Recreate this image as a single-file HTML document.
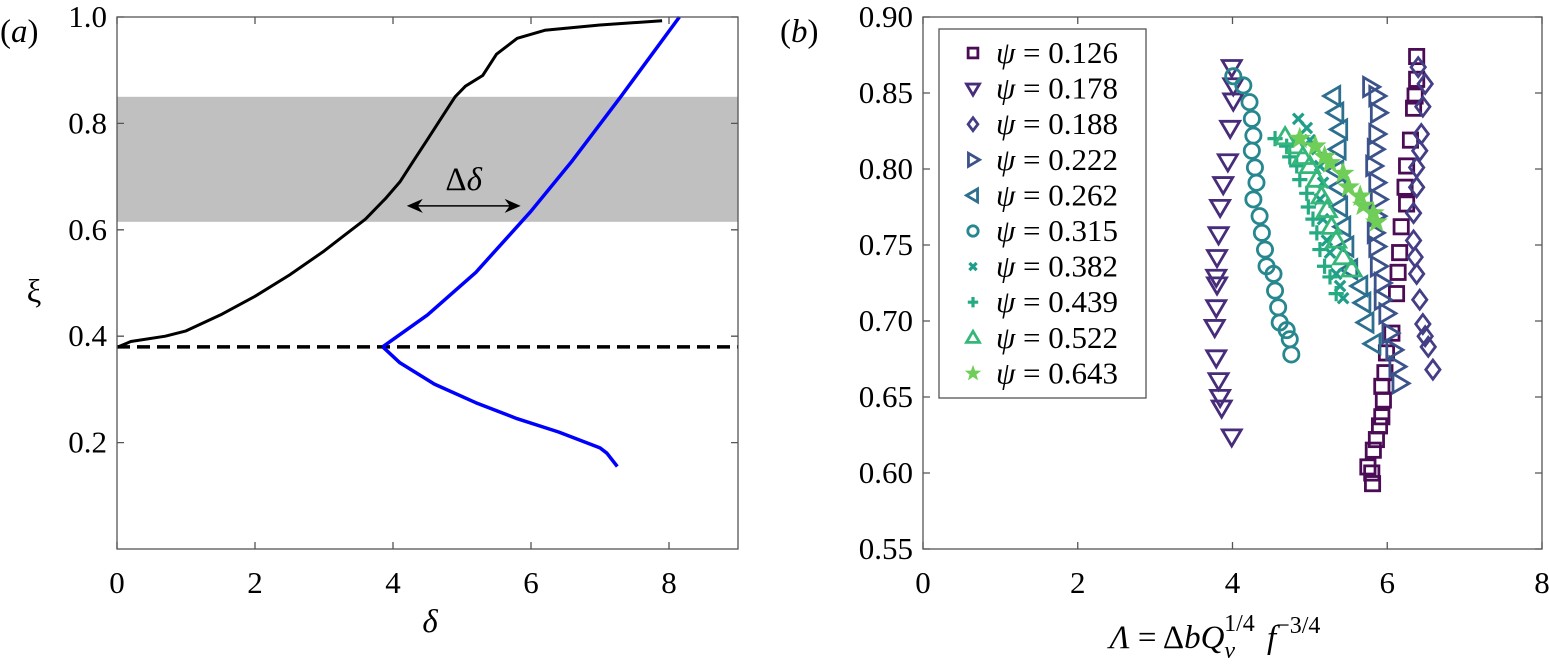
<!DOCTYPE html>
<html><head><meta charset="utf-8"><style>
html,body{margin:0;padding:0;background:#fff;}
svg{display:block;}
svg text{font-family:"Liberation Serif","DejaVu Serif","Times New Roman",serif;}
</style></head><body>
<svg id="chart" width="1549" height="671" viewBox="0 0 1549 671">
<g id="pa"></g>
<g id="pb"></g>
</svg>
<script>
// ---------- Panel (a) data ----------
const aXTicks = [0, 2, 4, 6, 8];
const aYTicks = [0.2, 0.4, 0.6, 0.8, 1.0];
const aYTickLabels = ["0.2", "0.4", "0.6", "0.8", "1.0"];
const blackX = [0.02,0.2,0.7,1.0,1.5,2.0,2.5,3.0,3.3,3.6,3.9,4.1,4.3,4.5,4.7,4.9,5.05,5.3,5.5,5.8,6.2,7.0,7.9];
const blackY = [0.38,0.39,0.40,0.41,0.44,0.475,0.515,0.56,0.59,0.62,0.66,0.69,0.73,0.77,0.81,0.85,0.87,0.89,0.93,0.96,0.975,0.985,0.993];
const blueUpX = [3.85,4.5,5.2,6.0,6.6,7.3,8.15];
const blueUpY = [0.38,0.44,0.52,0.635,0.73,0.85,1.0];
const blueLoX = [3.85,4.1,4.6,5.2,5.8,6.4,7.0,7.1,7.25];
const blueLoY = [0.38,0.35,0.31,0.275,0.245,0.22,0.19,0.18,0.155];
const dashedLevel = [0.38];
const bandRange = [0.615, 0.85];
const arrowRange = [4.2, 5.85];
const arrowLevel = [0.645];

// ---------- Panel (b) data ----------
const bXTicks = [0, 2, 4, 6, 8];
const bYTicks = [0.55,0.60,0.65,0.70,0.75,0.80,0.85,0.90];
const bYTickLabels = ["0.55","0.60","0.65","0.70","0.75","0.80","0.85","0.90"];
const psiLabels = ["0.126","0.178","0.188","0.222","0.262","0.315","0.382","0.439","0.522","0.643"];
const s126x = [6.38,6.38,6.36,6.34,6.30,6.25,6.23,6.25,6.18,6.16,6.14,6.12,6.06,5.99,5.97,5.93,5.95,5.93,5.90,5.86,5.82,5.75,5.80,5.81];
const s126y = [.874,.859,.848,.840,.819,.802,.788,.777,.762,.745,.732,.718,.692,.679,.666,.657,.648,.637,.631,.622,.615,.604,.600,.593];
const s178x = [3.99,4.01,4.01,3.97,3.94,3.88,3.84,3.82,3.80,3.79,3.80,3.79,3.77,3.79,3.82,3.84,3.86,3.99];
const s178y = [.867,.855,.845,.827,.805,.790,.775,.757,.742,.729,.724,.709,.696,.676,.661,.650,.643,.624];
const s188x = [6.40,6.49,6.46,6.44,6.42,6.38,6.38,6.34,6.34,6.36,6.38,6.42,6.46,6.49,6.53,6.59];
const s188y = [.867,.856,.841,.823,.812,.801,.788,.771,.753,.742,.731,.714,.698,.690,.683,.668];
const s222x = [5.78,5.86,5.88,5.86,5.84,5.82,5.86,5.88,5.86,5.84,5.86,5.88,5.93,5.93,5.99,6.03,6.08,6.12,6.16];
const s222y = [.854,.848,.837,.823,.813,.802,.791,.780,.769,.758,.749,.736,.725,.714,.705,.692,.681,.670,.659];
const s262x = [5.30,5.34,5.39,5.37,5.34,5.37,5.39,5.43,5.47,5.52,5.65,5.69,5.73,5.82];
const s262y = [.848,.837,.826,.813,.799,.788,.775,.762,.749,.734,.723,.712,.699,.685];
const s315x = [4.01,4.14,4.22,4.25,4.27,4.25,4.29,4.31,4.27,4.35,4.38,4.42,4.44,4.53,4.55,4.59,4.61,4.70,4.74,4.76];
const s315y = [.861,.855,.844,.833,.822,.812,.801,.791,.780,.769,.758,.747,.736,.731,.720,.709,.699,.694,.688,.678];
const s382x = [4.85,4.96,5.00,5.09,5.13,5.17,5.13,5.17,5.22,5.26,5.34,5.39,5.43];
const s382y = [.833,.827,.819,.813,.802,.791,.780,.767,.753,.745,.731,.723,.715];
const s439x = [4.55,4.70,4.74,4.83,4.87,4.96,4.98,5.04,5.09,5.13,5.19,5.26,5.34];
const s439y = [.820,.815,.808,.802,.793,.784,.775,.767,.758,.747,.736,.729,.718];
const s522x = [4.68,4.83,4.91,5.00,5.09,5.15,5.22,5.28,5.34,5.43,5.54];
const s522y = [.821,.815,.808,.802,.793,.782,.773,.762,.753,.742,.734];
const s643x = [4.87,5.07,5.19,5.26,5.43,5.50,5.65,5.69,5.82,5.86];
const s643y = [.820,.815,.808,.804,.797,.788,.782,.776,.771,.765];

const NS = "http://www.w3.org/2000/svg";
const FONT = '"Liberation Serif","DejaVu Serif",serif';
function mk(tag, attrs, parent){
  const e = document.createElementNS(NS, tag);
  for (const k in attrs) e.setAttribute(k, attrs[k]);
  if (tag === "text") e.setAttribute("font-family", FONT);
  parent.appendChild(e);
  return e;
}

// ---------- Panel (a) ----------
const pa = document.getElementById("pa");
const aL = 117, aR = 738, aT = 17, aB = 549;
const ax = v => aL + (v / 9) * (aR - aL);
const ay = v => aB - v * (aB - aT);

let el = mk("rect", {x: aL, y: ay(bandRange[1]), width: aR - aL, height: ay(bandRange[0]) - ay(bandRange[1]), fill: "#c0c0c0"}, pa);



el = mk("line", {x1: aL, x2: aR, y1: ay(dashedLevel[0]), y2: ay(dashedLevel[0]), stroke: "#000", "stroke-width": 3.5, "stroke-dasharray": "13,7"}, pa);



function poly(xs, ys, fx, fy){ return xs.map((v,i)=>fx(v).toFixed(1)+","+fy(ys[i]).toFixed(1)).join(" "); }
el = mk("polyline", {points: poly(blackX, blackY, ax, ay), fill: "none", stroke: "#000", "stroke-width": 3, "stroke-linejoin": "round"}, pa);


el = mk("polyline", {points: poly(blueUpX, blueUpY, ax, ay), fill: "none", stroke: "#0000ff", "stroke-width": 3.5, "stroke-linejoin": "round"}, pa);


el = mk("polyline", {points: poly(blueLoX, blueLoY, ax, ay), fill: "none", stroke: "#0000ff", "stroke-width": 3.5, "stroke-linejoin": "round"}, pa);



const ayA = ay(arrowLevel[0]), x1A = ax(arrowRange[0]), x2A = ax(arrowRange[1]);
el = mk("line", {x1: x1A + 8, x2: x2A - 8, y1: ayA, y2: ayA, stroke: "#000", "stroke-width": 1.5}, pa);


el = mk("path", {d: `M${x1A},${ayA} l16,-7 l-5,7 l5,7 z M${x2A},${ayA} l-16,-7 l5,7 l-5,7 z`, fill: "#000"}, pa);


el = mk("text", {x: (x1A + x2A) / 2, y: ayA - 16, "font-size": 33, "text-anchor": "middle"}, pa);
el.innerHTML = 'Δ<tspan font-style="italic">δ</tspan>';



el = mk("rect", {x: aL, y: aT, width: aR - aL, height: aB - aT, fill: "none", stroke: "#555", "stroke-width": 1.3}, pa);


aXTicks.forEach(t => {
  const x = ax(t);
  el = mk("path", {d: `M${x},${aB} v-7 M${x},${aT} v7`, stroke: "#555", "stroke-width": 1.3}, pa);
  
  
  el = mk("text", {x: x, y: aB + 44, "font-size": 31, "text-anchor": "middle"}, pa);
  el.textContent = t;
  
  
});
aYTicks.forEach((t, i) => {
  const y = ay(t);
  el = mk("path", {d: `M${aL},${y} h7 M${aR},${y} h-7`, stroke: "#555", "stroke-width": 1.3}, pa);
  
  
  el = mk("text", {x: aL - 10, y: y + 10, "font-size": 31, "text-anchor": "end"}, pa);
  el.textContent = aYTickLabels[i];
  
  
});
el = mk("text", {x: 430, y: 632, "font-size": 33, "font-style": "italic", "text-anchor": "middle"}, pa);
el.textContent = "δ";


el = mk("text", {x: 34, y: 302, "font-size": 33, "text-anchor": "middle"}, pa);
el.textContent = "ξ";


el = mk("text", {x: 0, y: 42, "font-size": 33}, pa);
el.innerHTML = '(<tspan font-style="italic">a</tspan>)';



// ---------- Panel (b) ----------
const pb = document.getElementById("pb");
const bL = 923, bR = 1542, bT = 17, bB = 549;
const bx = v => bL + (v / 8) * (bR - bL);
const by = v => bB - (v - 0.55) / 0.35 * (bB - bT);

el = mk("rect", {x: bL, y: bT, width: bR - bL, height: bB - bT, fill: "none", stroke: "#555", "stroke-width": 1.3}, pb);


bXTicks.forEach(t => {
  const x = bx(t);
  el = mk("path", {d: `M${x},${bB} v-7 M${x},${bT} v7`, stroke: "#555", "stroke-width": 1.3}, pb);
  
  
  el = mk("text", {x: x, y: bB + 44, "font-size": 31, "text-anchor": "middle"}, pb);
  el.textContent = t;
  
  
});
bYTicks.forEach((t, i) => {
  const y = by(t);
  el = mk("path", {d: `M${bL},${y} h7 M${bR},${y} h-7`, stroke: "#555", "stroke-width": 1.3}, pb);
  
  
  el = mk("text", {x: bL - 10, y: y + 10, "font-size": 31, "text-anchor": "end"}, pb);
  el.textContent = bYTickLabels[i];
  
  
});
el = mk("text", {x: 1215, y: 648, "font-size": 33, "text-anchor": "middle"}, pb);
el.innerHTML = '<tspan font-style="italic">Λ</tspan> = Δ<tspan font-style="italic">bQ</tspan><tspan font-style="italic" font-size="24" dy="10">v</tspan><tspan font-size="24" dx="-11" dy="-27">1/4</tspan><tspan font-style="italic" dx="4" dy="17"> f</tspan><tspan font-size="24" dy="-15">−3/4</tspan>';


el = mk("text", {x: 780, y: 42, "font-size": 33}, pb);
el.innerHTML = '(<tspan font-style="italic">b</tspan>)';



const colors = ["#4b0c55","#472c7a","#433e85","#3b528b","#2c6f8e","#26878e","#1f9e89","#25ab82","#35b779","#6ece58"];
const shapes = ["square","tridown","diamond","triright","trileft","circle","x","plus","triup","star"];
const seriesX = [s126x,s178x,s188x,s222x,s262x,s315x,s382x,s439x,s522x,s643x];
const seriesY = [s126y,s178y,s188y,s222y,s262y,s315y,s382y,s439y,s522y,s643y];

function marker(shape, cx, cy, color, parent, r){
  const sw = 2.8;
  let d;
  if (shape === "square") return mk("rect", {x: cx - r*0.75, y: cy - r*0.75, width: r*1.5, height: r*1.5, fill: "none", stroke: color, "stroke-width": sw}, parent);
  if (shape === "circle") return mk("circle", {cx, cy, r: r*0.8, fill: "none", stroke: color, "stroke-width": sw}, parent);
  if (shape === "diamond") d = `M${cx},${cy-r} L${cx+r*0.75},${cy} L${cx},${cy+r} L${cx-r*0.75},${cy} Z`;
  if (shape === "tridown") d = `M${cx-r},${cy-r*0.7} L${cx+r},${cy-r*0.7} L${cx},${cy+r} Z`;
  if (shape === "triup") d = `M${cx-r},${cy+r*0.7} L${cx+r},${cy+r*0.7} L${cx},${cy-r} Z`;
  if (shape === "triright") d = `M${cx-r*0.7},${cy-r} L${cx-r*0.7},${cy+r} L${cx+r},${cy} Z`;
  if (shape === "trileft") d = `M${cx+r*0.7},${cy-r} L${cx+r*0.7},${cy+r} L${cx-r},${cy} Z`;
  if (shape === "x") { const q = r*0.55; return mk("path", {d: `M${cx-q},${cy-q} L${cx+q},${cy+q} M${cx-q},${cy+q} L${cx+q},${cy-q}`, stroke: color, "stroke-width": 3.2}, parent); }
  if (shape === "plus") { const q = r*0.8; return mk("path", {d: `M${cx-q},${cy} H${cx+q} M${cx},${cy-q} V${cy+q}`, stroke: color, "stroke-width": 3.2}, parent); }
  if (shape === "star") {
    let p = [];
    for (let k = 0; k < 10; k++) { const a = -Math.PI/2 + k*Math.PI/5; const rr = k%2 ? r*0.45 : r*1.1; p.push((cx+rr*Math.cos(a)).toFixed(1)+","+(cy+rr*Math.sin(a)).toFixed(1)); }
    return mk("polygon", {points: p.join(" "), fill: color, stroke: color, "stroke-width": 1}, parent);
  }
  return mk("path", {d, fill: "none", stroke: color, "stroke-width": sw, "stroke-linejoin": "miter"}, parent);
}

seriesX.forEach((xs, s) => {
  const g = mk("g", {}, pb);
  
  
  xs.forEach((v, i) => {
    const m = marker(shapes[s], bx(v), by(seriesY[s][i]), colors[s], g, 9.5);
    
    
  });
});

const lg = mk("g", {}, pb);


el = mk("rect", {x: 939, y: 29, width: 207, height: 369, fill: "#fff", stroke: "#555", "stroke-width": 1.3}, lg);


psiLabels.forEach((lab, i) => {
  const cy = 53 + i * 35.6;
  const m = marker(shapes[i], 973, cy, colors[i], lg, 6.5);
  
  
  const t = mk("text", {x: 996, y: cy + 10, "font-size": 31}, lg);
  t.innerHTML = '<tspan font-style="italic">ψ</tspan> = ' + lab;
  
  
});
</script>
</body></html>
